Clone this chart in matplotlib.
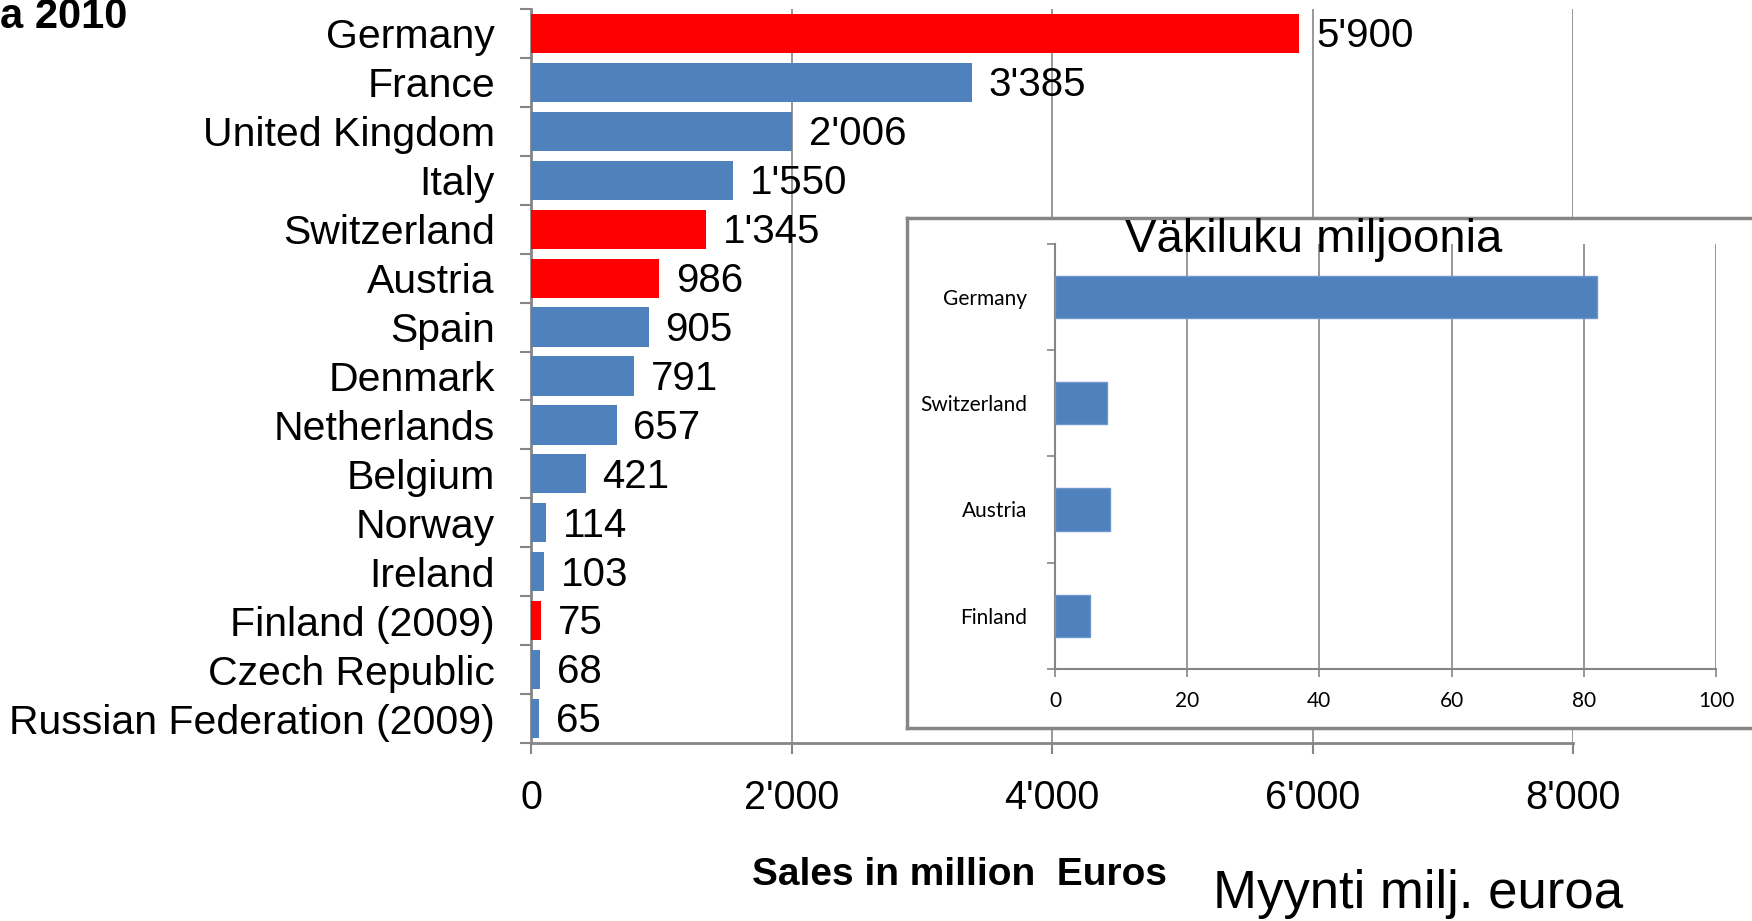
import matplotlib
matplotlib.use('Agg')

import matplotlib.pyplot as plt
from matplotlib.ticker import FuncFormatter, FixedLocator

# ==========================
# Data
# ==========================
countries = ["Germany", "France", "United Kingdom", "Italy", "Switzerland",
             "Austria", "Spain", "Denmark", "Netherlands", "Belgium",
             "Norway", "Ireland", "Finland (2009)", "Czech Republic",
             "Russian Federation (2009)"]
sales = [5900, 3385, 2006, 1550, 1345, 986, 905, 791, 657, 421,
         114, 103, 75, 68, 65]
highlight = ["Germany", "Switzerland", "Austria", "Finland (2009)"]

pop_countries = ["Germany", "Switzerland", "Austria", "Finland"]
population = [82.0, 7.8, 8.3, 5.3]

BLUE = "#4F81BD"
RED = "#FF0000"
GRAY = "#868686"

W, H = 1752, 921
plt.rcParams['font.family'] = ['Liberation Sans', 'DejaVu Sans']

fig = plt.figure(figsize=(W / 100, H / 100), dpi=100)


def fx(px):
    return px / W


def fy(py):
    return 1 - py / H


def apos(v, pos=None):
    return f"{int(v):,}".replace(",", "'")


# ==========================
# Main chart
# ==========================
ax = fig.add_axes([fx(531), fy(743), fx(1573) - fx(531), fy(9) - fy(743)])
ypos = list(range(len(countries)))
colors = [RED if c in highlight else BLUE for c in countries]
bars = ax.barh(ypos, sales, height=0.8, color=colors, zorder=3)

for y, v in zip(ypos, sales):
    ax.annotate(apos(v), (v, y), xytext=(12, -2), textcoords="offset points",
                va="center", ha="left", fontsize=29, zorder=4)

ax.set_ylim(len(countries) - 0.5, -0.5)
ax.set_xlim(0, 8000)
ax.set_xticks([0, 2000, 4000, 6000, 8000])
ax.xaxis.set_major_formatter(FuncFormatter(apos))
ax.set_yticks(ypos)
ax.set_yticklabels(countries)
ax.yaxis.set_minor_locator(FixedLocator([i - 0.5 for i in range(len(countries) + 1)]))
ax.tick_params(axis="y", which="major", length=0, pad=26, labelsize=29.5)
ax.tick_params(axis="y", which="minor", length=8, width=1.5, color=GRAY, direction="out")
ax.tick_params(axis="x", which="major", length=8, width=1.5, color=GRAY, pad=18, labelsize=28.5)
ax.grid(axis="x", color=GRAY, linewidth=1.2, zorder=0)
for s in ["top", "right"]:
    ax.spines[s].set_visible(False)
for s in ["left", "bottom"]:
    ax.spines[s].set_color(GRAY)
    ax.spines[s].set_linewidth(2)

fig.text(0, fy(17), "a 2010", fontsize=30, fontweight="bold", ha="left", va="center")
fig.text(fx(960), fy(875), "Sales in million  Euros", fontsize=28, fontweight="bold",
         ha="center", va="center")
fig.text(fx(1418), fy(894), "Myynti milj. euroa", fontsize=38, ha="center", va="center")

# ==========================
# Inset chart
# ==========================
box = fig.add_axes([fx(907), fy(728), fx(1770) - fx(907), fy(218) - fy(728)])
box.set_xticks([])
box.set_yticks([])
for s in box.spines.values():
    s.set_color(GRAY)
    s.set_linewidth(2.5)
box.set_zorder(5)

ax2 = fig.add_axes([fx(1055), fy(669), fx(1716) - fx(1055), fy(243.6) - fy(669)])
ax2.set_zorder(6)
ax2.patch.set_alpha(0)
ypos2 = list(range(len(pop_countries)))
ax2.barh(ypos2, population, height=0.4, color=BLUE, edgecolor="#6F97CC",
         linewidth=1, zorder=3)
ax2.set_ylim(len(pop_countries) - 0.5, -0.5)
ax2.set_xlim(0, 100)
ax2.set_xticks([0, 20, 40, 60, 80, 100])
ax2.set_yticks(ypos2)
ax2.set_yticklabels(pop_countries, fontfamily="Lato")
for lab in ax2.get_xticklabels():
    lab.set_fontfamily("Lato")
ax2.yaxis.set_minor_locator(FixedLocator([i - 0.5 for i in range(len(pop_countries) + 1)]))
ax2.tick_params(axis="y", which="major", length=0, pad=20, labelsize=15)
ax2.tick_params(axis="y", which="minor", length=6, width=1.2, color=GRAY)
ax2.tick_params(axis="x", which="major", length=6, width=1.2, color=GRAY, pad=10, labelsize=15)
ax2.grid(axis="x", color=GRAY, linewidth=1.2, zorder=0)
for s in ["top", "right"]:
    ax2.spines[s].set_visible(False)
for s in ["left", "bottom"]:
    ax2.spines[s].set_color(GRAY)
    ax2.spines[s].set_linewidth(1.5)

fig.text(fx(1314), fy(240), "Väkiluku miljoonia", fontsize=34, ha="center",
         va="center", zorder=7)

fig.savefig("out.png", dpi=100)
plt.close(fig)
